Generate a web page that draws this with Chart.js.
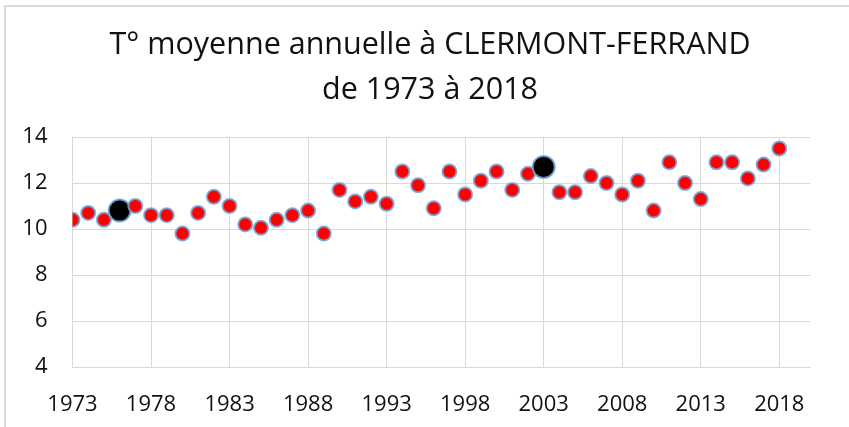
<!DOCTYPE html>
<html>
<head>
<meta charset="utf-8">
<script src="https://cdn.jsdelivr.net/npm/chart.js@4"></script>
<style>
  html, body { margin: 0; padding: 0; background: #fff; }
  #wrap { position: relative; width: 849px; height: 427px; overflow: hidden; }
  #frame { position: absolute; left: 4px; top: 5px; width: 900px; height: 440px;
           border-left: 2px solid #d9d9d9; border-top: 2px solid #d9d9d9; box-sizing: border-box; }
  canvas { position: absolute; left: 0; top: 0; }
</style>
</head>
<body>
<div id="wrap">
  <div id="frame"></div>
  <canvas id="c" width="849" height="427"></canvas>
</div>
<script>
// ---- data ----
const years = [1973,1974,1975,1976,1977,1978,1979,1980,1981,1982,1983,1984,1985,1986,1987,1988,1989,1990,1991,1992,1993,1994,1995,1996,1997,1998,1999,2000,2001,2002,2003,2004,2005,2006,2007,2008,2009,2010,2011,2012,2013,2014,2015,2016,2017,2018];
const temps = [10.4,10.7,10.4,10.8,11.0,10.6,10.6,9.8,10.7,11.4,11.0,10.2,10.05,10.4,10.6,10.8,9.8,11.7,11.2,11.4,11.1,12.5,11.9,10.9,12.5,11.5,12.1,12.5,11.7,12.4,12.7,11.6,11.6,12.3,12.0,11.5,12.1,10.8,12.9,12.0,11.3,12.9,12.9,12.2,12.8,13.5];
const highlightYears = [1976, 2003];
const xTickLabels = [1973,1978,1983,1988,1993,1998,2003,2008,2013,2018];
const yTickLabels = [4,6,8,10,12,14];
const titleLines = ["T° moyenne annuelle à CLERMONT-FERRAND", "de 1973 à 2018"];

const points = years.map((y, i) => ({ x: y, y: temps[i] }));
const isHi = ctx => ctx.raw && highlightYears.includes(ctx.raw.x);

const FONT = "'Open Sans', 'DejaVu Sans', sans-serif";
const grid = '#d9d9d9';

new Chart(document.getElementById('c'), {
  type: 'scatter',
  data: {
    datasets: [{
      data: points,
      pointRadius: ctx => isHi(ctx) ? 11 : 7,
      pointHoverRadius: ctx => isHi(ctx) ? 11 : 7,
      pointBackgroundColor: ctx => isHi(ctx) ? '#000000' : '#ff0000',
      pointBorderColor: 'rgba(110,165,215,0.85)',
      pointBorderWidth: 2
    }]
  },
  options: {
    responsive: false,
    animation: false,
    events: [],
    layout: { padding: { left: 11, right: 0, top: 0, bottom: 0 } },
    plugins: {
      legend: { display: false },
      tooltip: { enabled: false },
      title: {
        display: true,
        text: titleLines,
        color: '#111',
        font: { family: FONT, size: 30.5, weight: 'normal', lineHeight: 1.466 },
        padding: { top: 23, bottom: 24.6 }
      }
    },
    scales: {
      x: {
        type: 'linear',
        min: 1973,
        max: 2020,
        afterBuildTicks: s => { s.ticks = xTickLabels.map(v => ({ value: v })); },
        afterFit: s => { s.height = 60; },
        ticks: {
          color: '#111',
          font: { family: FONT, size: 22 },
          padding: 25,
          maxRotation: 0,
          autoSkip: false,
          callback: v => String(v)
        },
        grid: { color: grid, lineWidth: 1, drawTicks: false },
        border: { color: grid, width: 1 }
      },
      y: {
        type: 'linear',
        min: 4,
        max: 14,
        afterBuildTicks: s => { s.ticks = yTickLabels.map(v => ({ value: v })); },
        afterFit: s => { s.width = 61.5; },
        ticks: {
          color: '#111',
          font: { family: FONT, size: 22 },
          padding: 25
        },
        grid: { color: grid, lineWidth: 1, drawTicks: false },
        border: { color: grid, width: 1 }
      },
      yRight: {
        type: 'linear',
        position: 'right',
        min: 4,
        max: 14,
        afterFit: s => { s.width = 38.3; },
        ticks: { display: false },
        grid: { display: false, drawTicks: false },
        border: { display: false }
      }
    }
  }
});
</script>
</body>
</html>
